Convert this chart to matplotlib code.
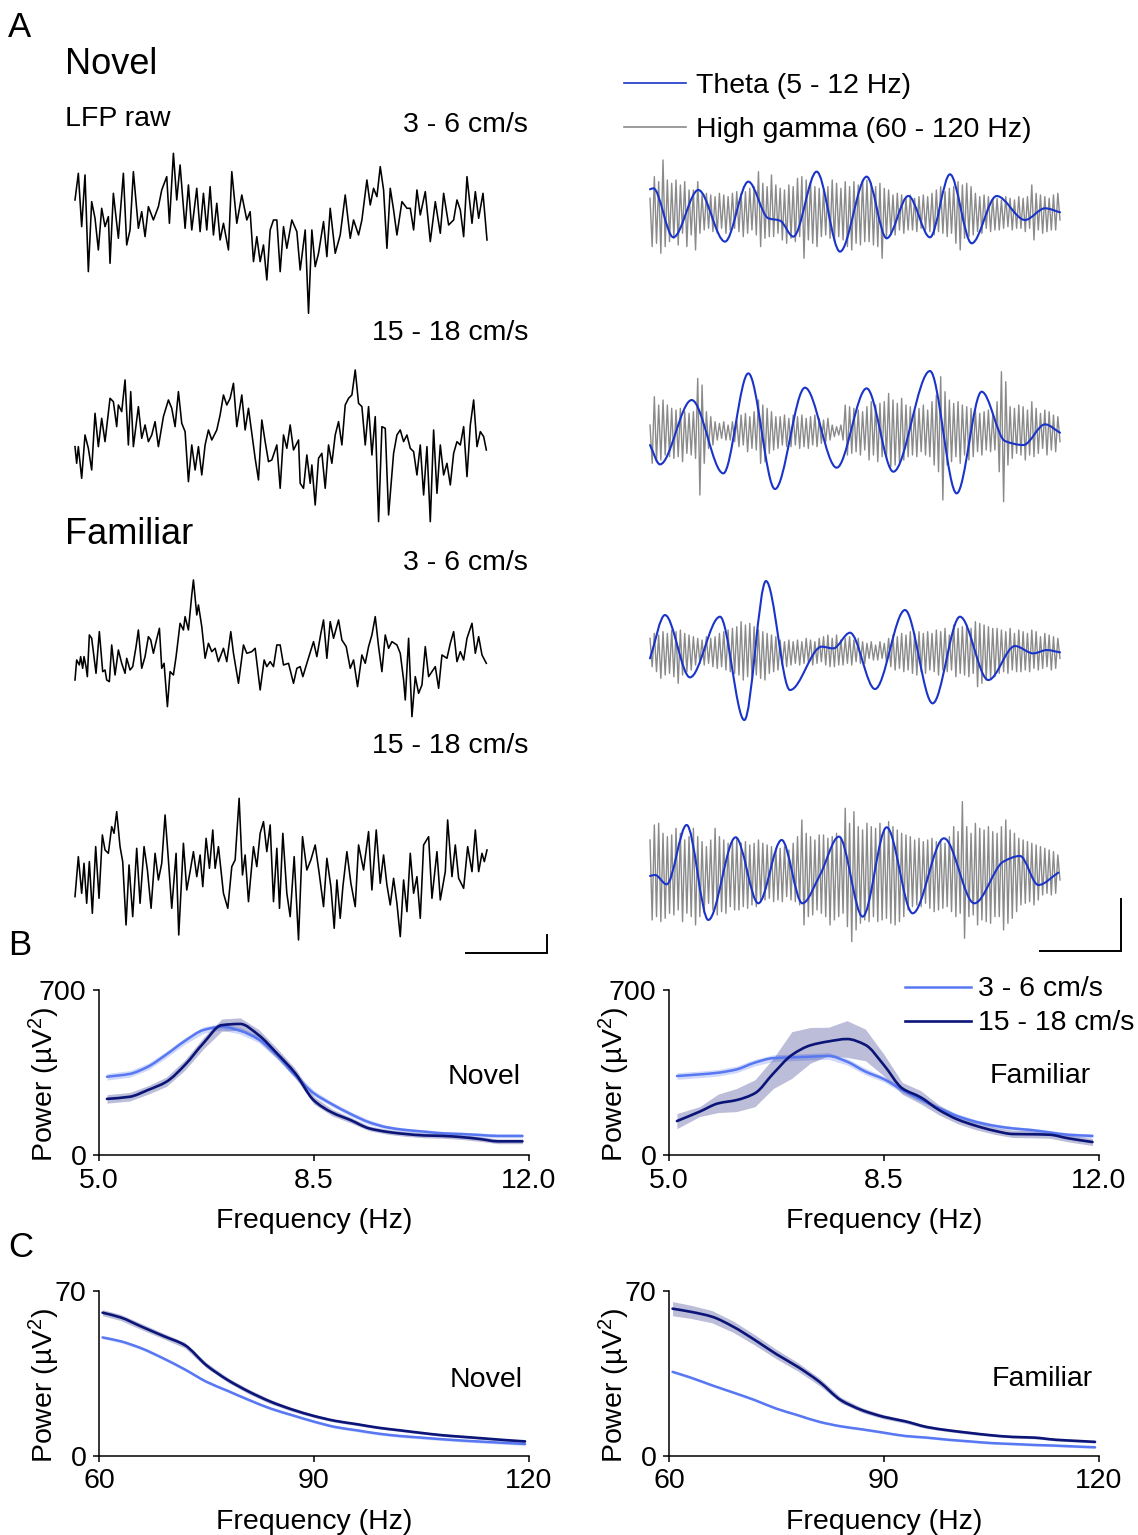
import numpy as np
import matplotlib
matplotlib.use('Agg')
import matplotlib.pyplot as plt
from matplotlib.path import Path
from matplotlib.patches import PathPatch
from matplotlib.lines import Line2D

plt.rcParams['font.family'] = ['Liberation Sans', 'DejaVu Sans']
plt.rcParams['mathtext.fontset'] = 'custom'
plt.rcParams['mathtext.rm'] = 'Liberation Sans'
plt.rcParams['mathtext.it'] = 'Liberation Sans:italic'

# ---------------- DATA ----------------
# Panel A: raw LFP (time a.u., amplitude a.u.)
lfp1_t = [45,55,65,75,85,95,105,115,125,135,145,150,160,175,190,200,210,220,235,245,
          255,265,280,295,305,320,328,340,350,360,375,385,395,410,420,430,440,450,460,470,
          480,490,505,515,530,545,560,570,580,590,600,610,620,630,640,650,660,670,680,695,
          710,720,735,745,755,765,775,790,800,810,825,840,855,870,880,895,905,920,930,940,
          950,960,970,980,990,1000,1010,1025,1040,1050,1060,1070,1080,1095,1110,1125,1140,1150,1165,1180,
          1190,1200,1210,1220,1235,1245,1255,1268,1280]
lfp1_v = [70,150,-10,145,-145,65,15,-80,45,-10,20,-120,90,-45,150,-65,-20,155,-15,35,
          -40,50,10,50,100,140,0,210,70,175,-15,115,-20,105,-25,90,-20,110,-35,60,
          -50,0,-80,155,0,85,10,35,-115,-40,-115,-65,-170,-20,10,10,-145,-10,-75,10,
          -25,-140,-20,-270,-20,-130,-90,5,-100,45,-90,-35,85,-45,10,-35,10,130,55,105,
          80,170,100,-75,105,40,-35,65,45,45,-20,100,25,95,-55,65,-30,90,-5,10,
          70,40,-40,140,0,95,15,90,-50]

lfp2_t = [45,50,55,65,75,85,95,105,115,125,135,150,160,170,175,185,195,205,212,220,
          235,245,255,265,275,285,295,310,325,335,345,355,365,375,385,395,405,415,425,435,
          445,455,470,480,490,500,510,520,530,545,555,565,575,585,595,605,615,625,635,650,
          660,670,680,690,700,715,720,730,740,750,755,765,775,785,795,805,815,825,835,845,
          855,865,875,885,895,905,915,925,935,945,955,965,975,985,1000,1010,1020,1030,1040,1050,
          1060,1070,1080,1090,1100,1110,1120,1130,1140,1150,1160,1170,1180,1190,1200,1210,1220,1230,1240,1250,
          1260,1270,1278]
lfp2_v = [5,-45,5,-90,40,0,-65,105,5,90,20,150,140,65,130,110,205,10,170,5,
          125,30,70,20,40,80,5,95,145,120,65,170,75,50,-100,10,-65,5,-80,10,
          55,25,55,100,160,130,150,195,65,160,55,120,45,-30,-95,85,20,-40,-35,10,
          -120,40,0,70,-5,25,-105,-120,-20,-105,-50,-170,-30,-15,-120,10,-45,40,80,10,
          130,150,160,235,135,125,10,125,-20,95,-220,65,60,-200,-15,40,55,20,40,0,
          -10,-80,10,-140,5,-220,55,-135,10,-80,-45,-110,-15,20,10,65,-85,70,145,5,
          50,35,-5]

lfp3_t = [45,50,58,62,68,72,78,82,88,95,100,108,118,128,135,140,148,155,165,175,
          185,195,200,210,218,228,235,245,255,265,272,280,288,298,305,312,322,330,340,348,
          360,370,375,385,395,400,410,415,425,435,445,455,465,475,490,500,512,520,535,550,
          560,575,585,600,612,620,630,640,650,660,670,685,700,710,720,728,740,760,770,782,
          790,800,810,820,835,845,858,870,880,892,905,915,925,935,945,955,965,975,985,995,
          1010,1020,1030,1035,1045,1055,1065,1075,1085,1095,1105,1115,1125,1135,1145,1160,1170,1180,1190,1200,
          1210,1220,1235,1245,1255,1265,1278]
lfp3_v = [-80,-20,-35,-10,-45,-10,-40,-70,55,45,5,-60,65,-55,-50,-80,-85,25,-65,10,
          -30,-60,-15,-50,-40,20,70,-45,-10,50,40,0,35,75,-45,-30,-160,-55,-65,-10,
          90,70,110,70,175,220,115,145,80,-15,30,5,15,-25,15,-25,65,0,-90,25,
          0,5,15,-110,-20,-40,-25,-40,25,25,-35,-30,-90,-45,-40,-70,-30,35,-10,60,
          100,-15,95,45,100,40,20,-45,-20,-100,-5,-30,20,55,110,20,-55,55,15,35,
          25,0,-80,-140,45,-190,-70,-120,-95,20,-70,-55,-40,-105,-5,-15,30,65,-25,5,
          -20,45,90,0,50,-5,-30]

lfp4_t = [45,55,65,72,80,88,97,107,117,127,135,145,155,162,170,180,188,198,207,218,
          230,240,252,262,273,285,295,305,315,325,335,348,356,370,380,390,400,410,420,428,
          438,448,458,465,475,490,503,515,525,537,547,555,565,580,590,600,610,620,630,640,
          650,658,668,680,690,702,715,727,740,752,765,777,790,800,812,822,830,840,848,860,
          872,885,895,910,925,935,948,960,970,980,990,1000,1010,1020,1030,1040,1050,1060,1070,1080,
          1090,1105,1115,1130,1140,1155,1162,1175,1185,1195,1210,1222,1235,1245,1255,1265,1272,1280]
lfp4_v = [-70,50,-60,30,-90,35,-120,80,-75,115,70,60,140,120,185,80,35,-155,25,-130,
          75,-90,80,10,-105,60,-20,30,175,40,-105,60,-185,90,-50,5,65,-10,55,-40,
          105,15,130,15,80,-60,-105,20,40,225,-5,55,-85,80,20,120,155,65,145,-85,
          75,-105,120,-60,-130,50,-200,110,10,40,85,0,-100,45,-40,-165,-20,-135,-40,65,
          -30,-100,85,10,125,-50,130,-30,55,-35,-95,-15,-90,-190,-20,-115,60,-60,-10,-135,
          85,110,-75,65,-80,5,160,-10,85,-15,-45,80,5,130,5,60,35,70]

# Theta (5-12 Hz) filtered: turning points (time a.u., amplitude a.u.)
theta1_t = [30,40,100,175,255,325,385,420,460,530,600,680,740,805,870,930,995,1070,1155,1215,1260]
theta1_v = [72,75,-72,70,-85,95,-15,-22,-70,125,-115,110,-75,52,-72,117,-90,52,-20,15,3]
theta2_t = [30,60,155,250,325,405,495,590,680,760,870,950,1025,1095,1150,1215,1260]
theta2_v = [-40,-98,95,-125,175,-172,132,-108,130,-120,182,-185,120,-28,-40,22,-3]
theta3_t = [30,75,150,240,313,378,450,545,580,630,705,795,878,960,1045,1125,1180,1220,1260]
theta3_v = [-20,110,-77,105,-205,212,-115,15,10,57,-112,125,-155,105,-85,17,-5,5,-2]
theta4_t = [30,45,80,140,205,287,355,425,487,540,597,668,740,818,912,1003,1090,1140,1195,1255]
theta4_v = [-8,-5,-33,145,-140,108,-90,100,-90,-5,110,-130,138,-120,105,-90,35,52,-35,2]

# High gamma (60-120 Hz) filtered: successive samples (a.u.)
gamma1 = [45,-100,110,-90,95,-120,160,-100,100,-85, 90,-75,100,-95,85,-60,95,-100,70,-65,
          70,-110,95,-60,55,-50,60,-45,55,-55, 50,-60,60,-45,55,-60,50,-50,60,-45,
          65,-55,60,-70,65,-60,75,-50,80,-65, 125,-100,90,-75,80,-70,115,-70,85,-60,
          75,-80,70,-90,85,-75,80,-85,105,-70, 110,-135,100,-80,95,-90,80,-100,75,-70,
          70,-65,80,-75,100,-85,90,-70,75,-80, 95,-100,80,-110,95,-90,85,-95,100,-85,
          100,-85,90,-95,80,-100,90,-135,75,-70, 70,-60,55,-65,60,-50,55,-60,45,-50,
          55,-50,45,-55,50,-45,55,-50,50,-55, 60,-65,70,-55,80,-60,65,-70,75,-60,
          80,-90,95,-110,85,-75,90,-70,80,-65, 60,-55,50,-60,55,-45,50,-55,45,-50,
          45,-50,40,-45,50,-40,45,-50,40,-45, 50,-45,45,-55,50,-45,85,-80,60,-50,
          55,-60,50,-55,45,-50,55,-50,60,-20]
gamma2 = [20,-95,105,-90,80,-85,95,-70,80,-75, 70,-80,65,-75,70,-90,60,-65,55,-70,
          60,-80,160,-190,140,-95,60,-50,45,-40, 30,-25,25,-20,30,-25,20,-25,30,-30,
          35,-45,50,-40,55,-60,45,-50,60,-55, 95,-95,80,-90,70,-65,60,-55,45,-50,
          45,-40,50,-45,40,-45,50,-40,45,-50, 50,-45,40,-50,45,-40,50,-45,40,-35,
          35,-30,40,-25,20,-15,15,-10,20,-25, 80,-70,75,-65,70,-60,65,-70,60,-55,
          75,-85,90,-70,80,-90,85,-75,90,-80, 115,-105,95,-100,85,-90,100,-85,80,-75,
          75,-70,65,-75,70,-60,80,-70,65,-75, 90,-100,110,-120,165,-205,120,-100,95,-90,
          85,-75,90,-95,80,-70,75,-85,70,-75, 65,-60,55,-70,60,-55,65,-60,50,-55,
          90,-120,180,-210,150,-100,75,-80,70,-65, 80,-70,75,-85,65,-70,90,-75,70,-65,
          55,-50,65,-70,60,-55,50,-60,45,-30]
gamma3 = [40,-45,55,-60,50,-80,60,-70,55,-65, 65,-75,60,-95,65,-70,55,-60,50,-55,
          45,-40,40,-35,35,-40,45,-35,40,-45, 45,-50,55,-45,60,-55,65,-60,70,-65,
          75,-70,90,-85,80,-75,85,-80,75,-70, 65,-80,60,-85,55,-65,50,-60,45,-55,
          35,-40,30,-45,35,-40,30,-35,35,-40, 30,-35,40,-30,35,-40,30,-35,40,-30,
          45,-40,50,-45,40,-45,50,-40,35,-40, 40,-35,45,-40,35,-30,40,-35,30,-35,
          25,-20,30,-25,20,-25,30,-20,25,-30, 40,-45,50,-55,45,-50,55,-60,50,-55,
          60,-65,55,-70,60,-60,55,-65,60,-55, 55,-60,65,-70,60,-55,70,-60,50,-55,
          80,-75,70,-65,75,-70,80,-75,70,-65, 90,-105,85,-95,80,-85,75,-80,70,-75,
          70,-65,65,-60,60,-65,70,-55,55,-60, 65,-60,60,-55,55,-60,65,-50,60,-55,
          45,-50,55,-45,50,-55,45,-50,40,-20]
gamma4 = [100,-140,145,-130,150,-145,120,-135,110,-120, 115,-125,135,-110,120,-145,100,-120,110,-130,
          135,-155,110,-130,95,-120,80,-90,100,-110, 135,-125,110,-115,100,-120,90,-100,95,-110,
          105,-110,90,-100,95,-105,85,-95,90,-100, 100,-85,90,-80,85,-75,80,-85,75,-80,
          75,-85,80,-70,70,-80,90,-85,110,-95, 160,-155,120,-130,110,-125,100,-110,115,-120,
          115,-130,105,-155,110,-140,120,-130,105,-120, 195,-160,150,-205,185,-170,140,-150,130,-140,
          150,-145,140,-130,135,-145,150,-140,130,-135, 155,-150,140,-155,130,-145,120,-130,115,-110,
          110,-100,100,-95,105,-100,95,-90,100,-105, 105,-115,95,-110,100,-105,90,-100,110,-115,
          140,-130,125,-120,215,-195,140,-130,120,-125, 150,-155,135,-140,130,-145,140,-150,125,-130,
          120,-130,140,-170,160,-150,130,-135,120,-115, 105,-95,100,-90,95,-85,90,-95,85,-80,
          80,-65,75,-60,70,-65,65,-60,55,-20]

speed_labels = ['3 - 6 cm/s', '15 - 18 cm/s', '3 - 6 cm/s', '15 - 18 cm/s']
scale_t = 243          # horizontal scale bar (time a.u.)
scale_v_raw = 54       # vertical scale bar, raw LFP (a.u.)
scale_v_filt = 156     # vertical scale bar, filtered (a.u.)

# Panel B: theta power spectra
freq_theta = [5.13,5.5,5.8,6.1,6.4,6.7,7.0,7.3,7.6,7.9,8.2,8.5,8.8,9.1,9.4,9.7,10.0,10.3,10.6,10.9,11.2,11.5,11.9]
nov_slow_B = [332,344,375,427,484,530,544,527,491,424,337,262,215,174,139,117,106,99,92,89,85,81,81]
nov_fast_B = [238,247,276,311,382,474,551,556,509,431,346,232,180,148,113,98,89,83,81,76,68,58,58]
nov_slow_B_sem = [14,14,14,14,14,14,14,14,14,14,12,12,10,10,10,8,8,8,8,8,8,8,8]
nov_fast_B_sem = [18,18,18,20,22,24,26,26,24,22,20,16,14,12,10,10,10,10,10,10,10,10,10]
fam_slow_B = [335,342,349,363,392,411,414,417,420,396,354,322,276,236,198,165,141,124,113,106,96,86,81]
fam_fast_B = [144,184,219,233,262,346,424,465,482,492,467,382,283,245,191,151,124,103,89,88,86,71,55]
fam_slow_B_sem = [14,14,14,14,14,14,14,14,14,14,14,12,12,10,10,10,8,8,8,8,8,8,8]
fam_fast_B_sem = [32,21,39,49,57,64,99,76,60,78,67,46,25,28,21,18,17,15,15,15,15,15,15]

# Panel C: high-gamma power spectra
freq_gamma = [60.5,63,66,69,72,75,78,81,84,87,90,93,96,99,102,105,108,111,114,117,119.5]
nov_slow_C = [50.3,48.7,45.6,41.4,36.7,31.5,27.6,23.7,20.1,17.3,14.6,12.3,10.9,9.5,8.5,7.8,7.1,6.5,6.0,5.5,5.1]
nov_fast_C = [60.8,58.8,54.8,50.9,47.0,38.5,32.2,27.2,23.0,19.7,17.0,14.9,13.5,12.0,10.9,9.8,8.8,8.1,7.4,6.7,6.2]
nov_slow_C_sem = [0.6]*21
nov_fast_C_sem = [1.3,1.3,1.3,1.2,1.2,1.1,1.0,1.0,0.9,0.8,0.7,0.6,0.6,0.5,0.5,0.5,0.5,0.5,0.5,0.5,0.5]
fam_slow_C = [35.7,33.3,30.0,26.9,23.7,20.1,17.3,14.5,12.6,11.3,9.9,8.5,7.8,6.9,6.2,5.5,5.1,4.7,4.4,4.0,3.7]
fam_fast_C = [62.5,61.2,59.1,54.8,49.2,43.2,37.8,31.5,23.7,19.4,16.6,14.7,12.3,10.9,9.8,8.8,8.1,7.8,6.9,6.4,6.0]
fam_slow_C_sem = [0.5]*21
fam_fast_C_sem = [3.0,2.8,2.6,2.4,2.2,2.0,1.8,1.6,1.2,1.0,0.9,0.8,0.7,0.6,0.6,0.5,0.5,0.5,0.5,0.5,0.5]

# ---------------- STYLE / LAYOUT ----------------
W, H = 1138, 1535
FS = 20.5
C_LIGHT = '#5877f2'
C_DARK = '#0b1477'
C_THETA = '#1a33c9'
C_GAMMA = '#8a8a8a'

fig = plt.figure(figsize=(W / 100, H / 100), dpi=100)

def fx(x):
    return x / W

def fy(y):
    return 1 - y / H

def rect(x0, y0, x1, y1):
    return [fx(x0), fy(y1), (x1 - x0) / W, (y1 - y0) / H]

def ftext(x, y, s, size=FS, ha='left', va='baseline'):
    fig.text(fx(x), fy(y), s, fontsize=size, ha=ha, va=va)

def fline(x0, x1, y, color, lw):
    fig.add_artist(Line2D([fx(x0), fx(x1)], [fy(y), fy(y)], color=color, lw=lw))

def smooth_line(ax, t, v, **kw):
    t = np.asarray(t, float)
    v = np.asarray(v, float)
    h = np.diff(t)
    d = np.diff(v) / h
    m = np.zeros_like(v)
    for k in range(1, len(v) - 1):
        if d[k - 1] * d[k] > 0:
            w1 = 2 * h[k] + h[k - 1]
            w2 = h[k] + 2 * h[k - 1]
            m[k] = (w1 + w2) / (w1 / d[k - 1] + w2 / d[k])
    m[0] = d[0]
    m[-1] = d[-1]
    verts = [(t[0], v[0])]
    codes = [Path.MOVETO]
    for k in range(len(v) - 1):
        verts += [(t[k] + h[k] / 3, v[k] + m[k] * h[k] / 3),
                  (t[k + 1] - h[k] / 3, v[k + 1] - m[k + 1] * h[k] / 3),
                  (t[k + 1], v[k + 1])]
        codes += [Path.CURVE4] * 3
    ax.add_patch(PathPatch(Path(verts, codes), fill=False, capstyle='round',
                           joinstyle='round', **kw))

# ---------------- PANEL A ----------------
left_base = [223.3, 448.3, 653.3, 873.3]
right_base = [213.3, 431.7, 651.7, 873.3]
lfp_t = [lfp1_t, lfp2_t, lfp3_t, lfp4_t]
lfp_v = [lfp1_v, lfp2_v, lfp3_v, lfp4_v]
thetas = [(theta1_t, theta1_v), (theta2_t, theta2_v), (theta3_t, theta3_v), (theta4_t, theta4_v)]
gammas = [gamma1, gamma2, gamma3, gamma4]

axL, axR = [], []
for i in range(4):
    a = fig.add_axes(rect(75, left_base[i] - 100, 487, left_base[i] + 100))
    a.set_xlim(45, 1280)
    a.set_ylim(-300, 300)
    a.axis('off')
    a.plot(lfp_t[i], lfp_v[i], color='black', lw=1.15, clip_on=False)
    axL.append(a)

    b = fig.add_axes(rect(650, right_base[i] - 100, 1060, right_base[i] + 100))
    b.set_xlim(30, 1260)
    b.set_ylim(-300, 300)
    b.axis('off')
    g = gammas[i]
    b.plot(np.linspace(30, 1260, len(g)), g, color=C_GAMMA, lw=1.0, clip_on=False, zorder=1)
    smooth_line(b, thetas[i][0], thetas[i][1], edgecolor=C_THETA, lw=1.5, zorder=2, clip_on=False)
    axR.append(b)

# scale bars
a = axL[3]
x_end = 1461
y_bot = -239
a.plot([x_end - scale_t, x_end, x_end], [y_bot, y_bot, y_bot + scale_v_raw],
       color='black', lw=1.4, clip_on=False, solid_joinstyle='miter')
b = axR[3]
x_end = 1443
y_bot = -233
b.plot([x_end - scale_t, x_end, x_end], [y_bot, y_bot, y_bot + scale_v_filt],
       color='black', lw=1.4, clip_on=False, solid_joinstyle='miter')

# texts panel A
ftext(8, 37, 'A', size=25)
ftext(65, 74, 'Novel', size=26)
ftext(65, 126, 'LFP raw')
ftext(65, 544, 'Familiar', size=26)
for s, y in zip(speed_labels, [132, 340, 570, 753]):
    ftext(528, y, s, ha='right')
fline(624, 686, 83, C_THETA, 1.2)
ftext(696, 93, 'Theta (5 - 12 Hz)')
fline(624, 686, 127, C_GAMMA, 1.2)
ftext(696, 137, 'High gamma (60 - 120 Hz)')

# ---------------- PANELS B & C ----------------
def spec_axes(x0, y0, x1, y1, xlim, ylim, xticks, xticklabels, yticks):
    ax = fig.add_axes(rect(x0, y0, x1, y1))
    ax.set_xlim(*xlim)
    ax.set_ylim(*ylim)
    ax.set_xticks(xticks)
    ax.set_xticklabels(xticklabels)
    ax.set_yticks(yticks)
    ax.set_yticklabels([str(v) for v in yticks])
    for s in ['top', 'right']:
        ax.spines[s].set_visible(False)
    for s in ['left', 'bottom']:
        ax.spines[s].set_linewidth(1.1)
    ax.tick_params(direction='out', length=4, width=1.1, labelsize=FS, pad=5)
    ax.set_xlabel('Frequency (Hz)', fontsize=FS)
    ax.xaxis.set_label_coords(0.5, -0.32)
    ax.set_ylabel('Power (\u00b5V$^2$)', fontsize=FS)
    ax.yaxis.set_label_coords(-0.086, 0.43)
    ax.patch.set_alpha(0)
    return ax

def draw_spec(ax, f, slow, slow_sem, fast, fast_sem):
    f = np.asarray(f)
    for y, e, c in [(slow, slow_sem, C_LIGHT), (fast, fast_sem, C_DARK)]:
        y = np.asarray(y, float)
        e = np.asarray(e, float)
        ax.fill_between(f, y - e, y + e, color=c, alpha=0.28, lw=0)
    smooth_line(ax, f, slow, edgecolor=C_LIGHT, lw=1.8, clip_on=False, zorder=3)
    smooth_line(ax, f, fast, edgecolor=C_DARK, lw=1.9, clip_on=False, zorder=4)

xt_B = [5.0, 8.5, 12.0]
xt_C = [60, 90, 120]
axB1 = spec_axes(99, 990, 528.6, 1155, (5, 12), (0, 700), xt_B, ['5.0', '8.5', '12.0'], [0, 700])
draw_spec(axB1, freq_theta, nov_slow_B, nov_slow_B_sem, nov_fast_B, nov_fast_B_sem)
axB2 = spec_axes(669, 990, 1098.6, 1155, (5, 12), (0, 700), xt_B, ['5.0', '8.5', '12.0'], [0, 700])
draw_spec(axB2, freq_theta, fam_slow_B, fam_slow_B_sem, fam_fast_B, fam_fast_B_sem)
axC1 = spec_axes(99, 1291, 528.6, 1456, (60, 120), (0, 70), xt_C, ['60', '90', '120'], [0, 70])
draw_spec(axC1, freq_gamma, nov_slow_C, nov_slow_C_sem, nov_fast_C, nov_fast_C_sem)
axC2 = spec_axes(669, 1291, 1098.6, 1456, (60, 120), (0, 70), xt_C, ['60', '90', '120'], [0, 70])
draw_spec(axC2, freq_gamma, fam_slow_C, fam_slow_C_sem, fam_fast_C, fam_fast_C_sem)

ftext(8, 955, 'B', size=25)
ftext(8, 1257, 'C', size=25)
ftext(484, 1084, 'Novel', ha='center')
ftext(1040, 1083, 'Familiar', ha='center')
ftext(486, 1387, 'Novel', ha='center')
ftext(1042, 1386, 'Familiar', ha='center')

# legend panel B
fline(905, 971, 987, C_LIGHT, 1.8)
ftext(978, 996, speed_labels[0])
fline(905, 971, 1021, C_DARK, 1.9)
ftext(978, 1030, speed_labels[1])

fig.savefig('out.png', dpi=100)
